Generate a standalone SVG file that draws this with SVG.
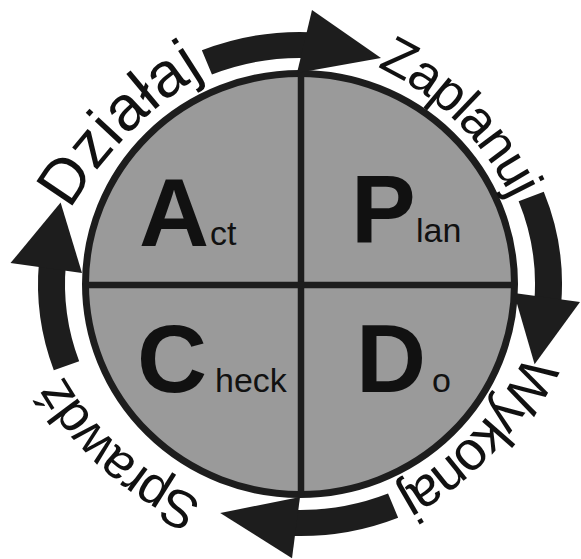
<svg xmlns="http://www.w3.org/2000/svg" width="581" height="559" viewBox="0 0 581 559">
<defs>
<style>
.band{fill:#1d1d1d}
.ring{font-family:"Liberation Sans",Arial,sans-serif;font-size:53px;fill:#111}
.big{font-family:"Liberation Sans",Arial,sans-serif;font-weight:bold;font-size:97px;fill:#111}
.small{font-family:"Liberation Sans",Arial,sans-serif;font-size:34px;fill:#111}
.div{stroke:#1d1d1d;stroke-width:6.5;fill:none}
</style>
<path id="pDz" d="M70,210 A400,400 0 0 1 204,74"/>
<path id="pZa" d="M377,67 A280,280 0 0 1 512,200"/>
<path id="pWy" d="M526,353 A308,308 0 0 1 396,492"/>
<path id="pSp" d="M203,500 A288,288 0 0 1 63,375"/>
</defs>
<rect width="581" height="559" fill="#ffffff"/>
<g id="pdca-circle">
<ellipse cx="300" cy="284" rx="214.5" ry="210.5" fill="#9a9a9a" stroke="#1d1d1d" stroke-width="7"/>
<line class="div" x1="301" y1="74" x2="301" y2="494"/>
<line class="div" x1="86" y1="285" x2="515" y2="285"/>
</g>
<g id="act">
<text class="big" x="139" y="246">A</text>
<text class="small" x="210" y="245">ct</text>
</g>
<g id="plan">
<text class="big" x="351" y="242">P</text>
<text class="small" x="416" y="242">lan</text>
</g>
<g id="check">
<text class="big" x="137" y="392">C</text>
<text class="small" x="215" y="392">heck</text>
</g>
<g id="do">
<text class="big" x="356" y="392">D</text>
<text class="small" x="432" y="392">o</text>
</g>
<g id="connectors">
<path class="band" d="M201.85,50.35 A262,252 0 0 1 309.14,32.15 L308.2,58.14 A235,226 0 0 0 211.97,74.46 Z"/>
<polygon class="band" points="297,73 312,10 381,58"/>
<path class="band" d="M543.77,191.64 A262,252 0 0 1 561.19,303.77 L534.28,301.73 A235,226 0 0 0 518.65,201.17 Z"/>
<polygon class="band" points="513.9,293 580,301.9 534.6,364.2"/>
<path class="band" d="M398.15,517.65 A262,252 0 0 1 288.57,535.76 L289.75,509.79 A235,226 0 0 0 388.03,493.54 Z"/>
<polygon class="band" points="300,497 292,558.3 220.2,513"/>
<path class="band" d="M53.8,370.19 A262,252 0 0 1 39,262.04 L65.9,264.3 A235,226 0 0 0 79.17,361.3 Z"/>
<polygon class="band" points="82,273 10.5,263.1 60.6,202.6"/>
</g>
<g id="label-dzialaj"><text class="ring" style="font-size:63px"><textPath href="#pDz" textLength="193" lengthAdjust="spacing">Działaj</textPath></text></g>
<g id="label-zaplanuj"><text class="ring"><textPath href="#pZa" textLength="193" lengthAdjust="spacing">Zaplanuj</textPath></text></g>
<g id="label-wykonaj"><text class="ring" style="font-size:55px"><textPath href="#pWy" textLength="193" lengthAdjust="spacing">Wykonaj</textPath></text></g>
<g id="label-sprawdz"><text class="ring"><textPath href="#pSp" textLength="191" lengthAdjust="spacing">Sprawdź</textPath></text></g>
</svg>
